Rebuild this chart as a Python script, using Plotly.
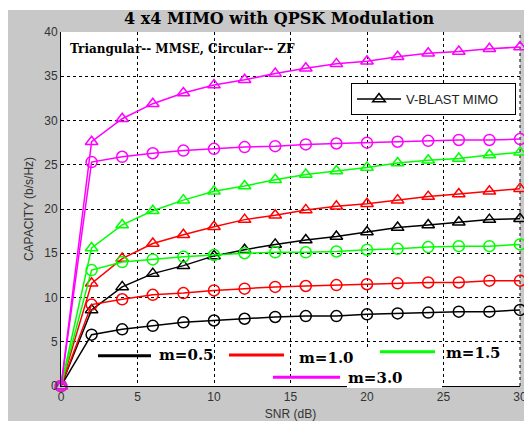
import plotly.graph_objects as go

snr = [0, 2, 4, 6, 8, 10, 12, 14, 16, 18, 20, 22, 24, 26, 28, 30]

m05_mmse = [0, 8.6, 11.2, 12.7, 13.6, 14.7, 15.4, 16.0, 16.5, 16.9, 17.4, 17.9, 18.2, 18.5, 18.8, 18.9]
m05_zf = [0, 5.8, 6.4, 6.8, 7.2, 7.4, 7.6, 7.8, 7.9, 7.9, 8.1, 8.2, 8.3, 8.4, 8.4, 8.6]
m10_mmse = [0, 11.6, 14.4, 16.1, 17.1, 18.0, 18.8, 19.3, 19.9, 20.3, 20.6, 21.0, 21.4, 21.7, 22.0, 22.3]
m10_zf = [0, 9.2, 9.8, 10.3, 10.5, 10.8, 11.0, 11.2, 11.3, 11.4, 11.5, 11.6, 11.7, 11.7, 11.9, 11.9]
m15_mmse = [0, 15.6, 18.2, 19.8, 21.0, 22.0, 22.6, 23.3, 23.9, 24.3, 24.7, 25.2, 25.5, 25.7, 26.1, 26.4]
m15_zf = [0, 13.1, 14.0, 14.3, 14.6, 14.8, 15.0, 15.1, 15.1, 15.2, 15.4, 15.5, 15.7, 15.8, 15.8, 16.0]
m30_mmse = [0, 27.6, 30.2, 31.9, 33.1, 34.0, 34.6, 35.3, 35.9, 36.4, 36.7, 37.2, 37.6, 37.8, 38.1, 38.3]
m30_zf = [0, 25.3, 25.9, 26.3, 26.6, 26.8, 27.0, 27.1, 27.3, 27.4, 27.5, 27.6, 27.7, 27.8, 27.8, 27.9]

m_labels = ["m=0.5", "m=1.0", "m=1.5", "m=3.0"]
colors = ["#000000", "#ff0000", "#00ff00", "#ff00ff"]
mmse_series = [m05_mmse, m10_mmse, m15_mmse, m30_mmse]
zf_series = [m05_zf, m10_zf, m15_zf, m30_zf]

fig = go.Figure()
for lab, col, mm, zf in zip(m_labels, colors, mmse_series, zf_series):
    fig.add_trace(go.Scatter(x=snr, y=zf, mode="lines+markers", showlegend=False, cliponaxis=False,
                             line=dict(color=col, width=1.5),
                             marker=dict(symbol="circle-open", size=11, color=col, line=dict(width=1.5))))
    fig.add_trace(go.Scatter(x=snr, y=mm, mode="lines+markers", showlegend=False, cliponaxis=False,
                             line=dict(color=col, width=1.5),
                             marker=dict(symbol="triangle-up-open", size=11, color=col, line=dict(width=1.5))))

fig.add_trace(go.Scatter(x=[None], y=[None], mode="lines+markers", name="V-BLAST MIMO\u00a0\u00a0\u00a0",
                         line=dict(color="black", width=1.5),
                         marker=dict(symbol="triangle-up-open", size=11, color="black", line=dict(width=1.5))))

W, H = 524, 421
L, R, T, B = 61, 4, 32, 35
pw, ph = W - L - R, H - T - B

def px(xp):
    return (xp - L) / pw

def py(yp):
    return (H - B - yp) / ph

shapes = []
# dotted right border (grid line at x=30)
shapes.append(dict(type="line", xref="paper", yref="paper", x0=1, x1=1, y0=0, y1=1,
                   line=dict(color="black", width=1, dash="dot"), layer="below"))
# white strips outside gray frame
shapes.append(dict(type="rect", xref="paper", yref="paper", x0=px(-2), x1=px(8), y0=py(H + 2), y1=py(-2),
                   fillcolor="white", line=dict(width=0), layer="above"))
shapes.append(dict(type="rect", xref="paper", yref="paper", x0=px(-2), x1=px(W + 2), y0=py(10), y1=py(-2),
                   fillcolor="white", line=dict(width=0), layer="above"))
# white box behind m=3.0
shapes.append(dict(type="rect", xref="paper", yref="paper", x0=px(347), x1=px(442), y0=py(388), y1=py(347),
                   fillcolor="white", line=dict(width=0), layer="above"))

# custom legend lines
leg_lines = [(98, 151, 355.7), (229, 284, 355), (380, 435, 351.7), (273, 340, 377.3)]
leg_text = [(157, 355), (297, 358), (444, 353), (346, 377.7)]
for (x0, x1, yy), col in zip(leg_lines, colors):
    shapes.append(dict(type="line", xref="paper", yref="paper", x0=px(x0), x1=px(x1), y0=py(yy), y1=py(yy),
                       line=dict(color=col, width=3), layer="above"))

annotations = []
for (xx, yy), lab in zip(leg_text, m_labels):
    annotations.append(dict(xref="paper", yref="paper", x=px(xx), y=py(yy), xanchor="left", yanchor="middle",
                            text="<b>%s</b>" % lab, showarrow=False,
                            font=dict(family="DejaVu Serif", size=15, color="black")))

annotations.append(dict(xref="paper", yref="paper", x=px(279), y=py(19), xanchor="center", yanchor="middle",
                        text="<b>4 x4 MIMO with QPSK Modulation</b>", showarrow=False,
                        font=dict(family="DejaVu Serif", size=16, color="black")))
annotations.append(dict(xref="paper", yref="paper", x=px(68), y=py(49), xanchor="left", yanchor="middle",
                        text="<b>Triangular-- MMSE, Circular-- ZF</b>", showarrow=False,
                        font=dict(family="DejaVu Serif", size=12, color="black")))

axis_common = dict(showgrid=True, gridcolor="black", gridwidth=1, griddash="dot",
                   showline=True, linecolor="black", linewidth=1, mirror=False, automargin=False,
                   zeroline=False, ticks="", ticklabeloverflow="allow",
                   tickfont=dict(family="Liberation Sans", size=12, color="#333333"))

fig.update_layout(
    width=W, height=H,
    margin=dict(l=L, r=R, t=T, b=B, autoexpand=False),
    paper_bgcolor="#c8c8c8",
    plot_bgcolor="white",
    shapes=shapes,
    annotations=annotations,
    showlegend=True,
    legend=dict(x=px(351), y=py(83), xanchor="left", yanchor="top", itemwidth=44,
                bgcolor="white", bordercolor="black", borderwidth=1,
                font=dict(family="Liberation Sans", size=13, color="#222222")),
    xaxis=dict(range=[0, 30], tickvals=[0, 5, 10, 15, 20, 25, 30],
               title=dict(text="SNR (dB)", font=dict(family="Liberation Sans", size=12, color="#333333"), standoff=10),
               **axis_common),
    yaxis=dict(range=[0, 40], tickvals=[0, 5, 10, 15, 20, 25, 30, 35, 40],
               title=dict(text="CAPACITY (b/s/Hz)", font=dict(family="Liberation Sans", size=12, color="#333333"), standoff=8),
               **axis_common),
)

fig.write_html("out.html")
